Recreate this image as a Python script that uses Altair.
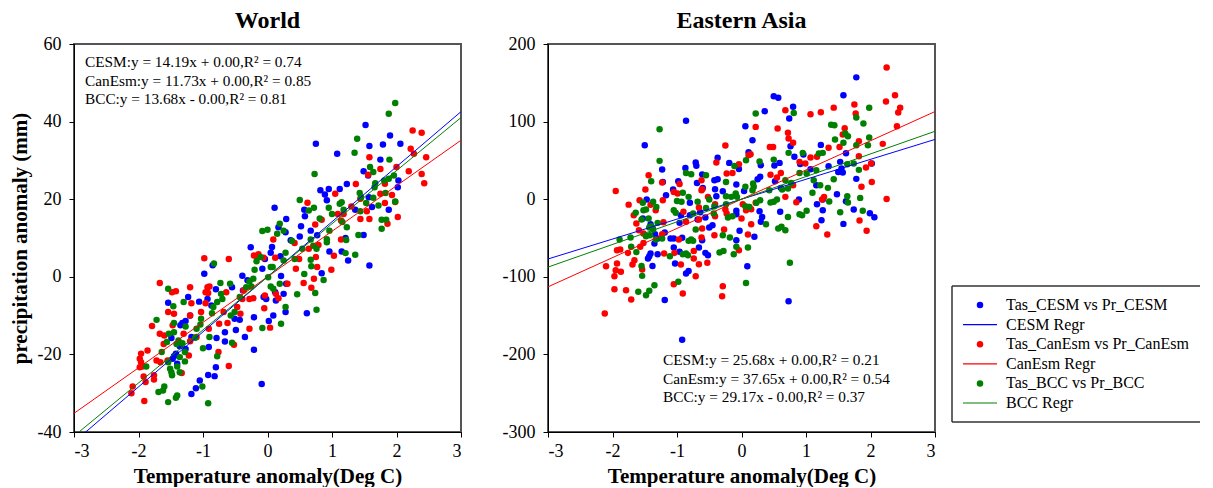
import altair as alt
import pandas as pd

FONT = "Liberation Serif"
SERIES = ["CESM", "CanEsm", "BCC"]
COLORS = ["#0000ff", "#ff0000", "#008000"]
X_TICKS = [-3, -2, -1, 0, 1, 2, 3]
WORLD_Y_TICKS = [-40, -20, 0, 20, 40, 60]
EA_Y_TICKS = [-300, -200, -100, 0, 100, 200]
WORLD_SLOPES = [14.19, 11.73, 13.68]
EA_SLOPES = [25.68, 37.65, 29.17]
WORLD_EQ = ["CESM:y = 14.19x + 0.00,R² = 0.74",
            "CanEsm:y = 11.73x + 0.00,R² = 0.85",
            "BCC:y = 13.68x - 0.00,R² = 0.81"]
EA_EQ = ["CESM:y = 25.68x + 0.00,R² = 0.21",
         "CanEsm:y = 37.65x + 0.00,R² = 0.54",
         "BCC:y = 29.17x - 0.00,R² = 0.37"]
LEGEND_LABELS = ["Tas_CESM vs Pr_CESM", "CESM Regr",
                 "Tas_CanEsm vs Pr_CanEsm", "CanEsm Regr",
                 "Tas_BCC vs Pr_BCC", "BCC Regr"]
LEGEND_KINDS = ["dot", "line", "dot", "line", "dot", "line"]
LEGEND_SERIES = ["CESM", "CESM", "CanEsm", "CanEsm", "BCC", "BCC"]

WORLD_CESM = [(1.52,39.1),(1.90,36.4),(2.06,34.3),(1.58,33.7),(1.79,34.1),(0.75,34.3),(1.08,31.7),(1.75,30.2),(1.49,27.2),(1.56,26.1),(2.03,24.8),(2.02,23.1),(1.23,23.9),(1.12,22.6),(0.95,22.6),(0.82,22.3),(0.89,21.2),(0.92,19.7),(1.57,20.5),(1.62,18.0),(1.88,17.3),(1.36,17.3),(0.57,17.3),(0.58,15.6),(0.11,17.8),(0.29,14.9),(0.52,13.0),(0.50,10.4),(0.67,11.9),(0.77,10.7),(0.17,12.8),(0.28,11.5),(0.36,9.4),(1.49,10.8),(1.21,10.0),(1.15,6.5),(0.96,6.5),(1.25,4.2),(-0.26,7.6),(0.07,7.7),(0.05,6.2),(0.20,5.3),(0.84,0.9),(1.58,2.9),(0.61,-9.4),(-0.08,2.1),(-0.04,4.6),(0.21,0.2),(0.29,-1.8),(0.25,-4.4),(0.28,-9.1),(0.12,-4.0),(0.13,-6.1),(0.09,-10.0),(0.02,-11.4),(-0.06,-5.2),(-0.02,-5.7),(-0.09,-27.6),(-0.21,-10.4),(-0.21,-18.8),(-0.35,-15.5),(-0.43,-11.1),(-0.49,-13.7),(-0.51,-10.8),(-0.39,0.3),(-0.31,-0.9),(-0.38,-3.5),(-0.55,-2.7),(-0.66,-14.3),(-0.66,-16.7),(-0.79,-15.8),(-0.80,-23.3),(-0.82,-25.6),(-0.92,-25.3),(-0.91,-18.1),(-0.80,-3.2),(-0.87,-7.4),(-0.85,3.0),(-0.98,0.8),(-1.06,-6.4),(-1.05,-26.7),(-1.11,-28.7),(-1.18,-30.2),(-1.23,-5.2),(-1.20,-10.0),(-1.27,-11.4),(-1.32,-11.9),(-1.36,-17.9),(-1.42,-19.8),(-1.47,-21.1),(-1.54,-6.7),(-1.49,-15.8),(-1.18,-15.5),(-1.27,-18.6),(-1.40,-22.4),(-0.93,-5.7),(-1.45,-20.5),(-1.35,-12.5)]
WORLD_CANESM = [(2.39,37.1),(2.25,37.7),(2.22,33.0),(2.27,31.7),(2.46,30.8),(1.58,30.8),(1.75,27.8),(2.19,27.2),(2.00,28.3),(2.39,26.5),(2.43,24.1),(1.56,26.3),(1.37,23.9),(1.82,24.0),(1.75,21.4),(1.05,21.4),(1.93,21.1),(1.44,20.1),(1.98,19.3),(1.82,19.0),(1.30,18.1),(1.18,16.2),(1.09,16.2),(1.54,16.9),(1.44,14.9),(1.58,14.9),(0.84,14.7),(0.74,13.5),(1.14,14.5),(2.02,15.4),(1.86,13.7),(0.62,19.1),(0.42,8.7),(0.09,9.6),(1.14,9.6),(1.03,5.4),(0.99,1.8),(0.64,7.2),(0.79,8.2),(0.75,5.1),(0.77,2.5),(0.49,4.6),(0.44,2.1),(0.12,4.9),(-0.14,5.8),(-0.06,4.9),(0.72,-0.5),(0.56,-1.6),(0.68,-2.8),(0.31,-1.8),(0.13,-4.4),(0.17,-5.5),(-0.04,-4.8),(0.04,-13.1),(-0.05,-8.1),(-0.60,4.6),(-0.98,4.8),(-0.93,-2.7),(-0.90,-2.5),(-0.96,-4.0),(-0.92,-4.2),(-0.96,-6.8),(-1.03,-9.1),(-1.10,-15.5),(-0.91,-13.4),(-0.75,-12.1),(-0.76,-19.4),(-0.62,-11.9),(-0.60,-23.0),(-0.52,-17.5),(-0.68,-9.1),(-0.64,-4.0),(-0.47,-7.8),(-0.39,-5.7),(-0.28,-5.7),(-0.37,-3.5),(-0.22,-5.5),(-0.28,-13.4),(-0.42,-9.5),(-0.21,5.5),(-0.16,5.1),(-1.20,-2.7),(-1.18,-6.8),(-1.20,-10.0),(-1.20,-16.6),(-1.22,-20.3),(-1.33,-24.8),(-1.30,-14.7),(-1.42,-3.7),(-1.48,-4.0),(-1.45,-9.5),(-1.54,-9.1),(-1.47,-12.5),(-1.60,-15.1),(-1.67,-14.7),(-1.61,-17.3),(-1.55,-21.6),(-1.67,-1.6),(-1.72,-21.6),(-1.66,-22.0),(-1.76,-25.4),(-1.76,-26.5),(-1.79,-12.7),(-1.86,-19.0),(-1.96,-19.8),(-1.98,-21.1),(-1.96,-22.0),(-1.98,-23.3),(-1.92,-25.7),(-1.89,-27.1),(-1.91,-32.0),(-2.09,-28.3),(-2.11,-30.0),(-1.94,-23.1)]
WORLD_BCC = [(1.98,44.8),(1.88,42.0),(1.39,35.6),(1.35,32.0),(1.89,30.2),(0.73,26.5),(1.59,28.3),(1.64,27.0),(1.67,24.1),(1.66,23.1),(1.81,24.8),(1.96,26.1),(1.88,25.3),(1.43,21.6),(1.45,20.5),(1.64,20.4),(1.53,19.0),(1.83,21.6),(1.98,19.4),(1.72,18.4),(1.44,16.9),(1.15,19.2),(1.12,18.8),(1.18,17.3),(1.16,14.1),(1.23,12.8),(1.22,9.5),(1.21,6.1),(1.36,5.7),(1.41,10.8),(1.77,14.7),(1.84,14.7),(1.77,12.4),(0.95,17.8),(1.00,16.2),(0.96,11.9),(0.92,9.7),(0.92,8.9),(0.50,19.8),(0.64,17.1),(0.72,17.8),(0.81,15.0),(0.67,9.6),(0.71,8.0),(0.76,7.2),(0.67,4.4),(0.68,2.7),(0.74,-4.2),(0.76,-8.5),(0.87,-0.8),(0.57,0.7),(0.46,-4.5),(0.54,7.2),(0.42,4.6),(0.38,9.2),(0.25,11.9),(0.19,13.7),(0.15,11.1),(0.28,6.2),(0.25,4.2),(0.00,12.1),(-0.08,11.8),(0.05,2.5),(0.08,2.5),(0.01,-0.1),(0.05,-2.5),(0.09,-3.1),(0.19,-1.8),(0.21,-12.1),(0.28,-7.8),(-0.08,-13.2),(-0.11,5.1),(-0.17,4.0),(-0.20,1.8),(-0.22,-0.5),(-0.28,-1.2),(-0.25,-2.5),(-0.33,-2.7),(-0.43,-5.2),(-0.51,-9.1),(-0.58,-1.8),(-0.73,-1.6),(-0.72,-4.4),(-0.70,-5.7),(-0.78,-6.5),(-0.83,3.4),(-0.84,-7.8),(-0.86,-9.4),(-0.90,-15.5),(-0.78,-20.5),(-0.57,-10.0),(-0.55,-17.0),(-1.03,-10.8),(-1.04,-12.3),(-1.00,-18.4),(-1.01,-28.3),(-0.92,-32.6),(-1.10,-13.4),(-1.12,-15.7),(-1.27,-12.8),(-1.30,-6.5),(-1.32,-17.1),(-1.28,-19.4),(-1.28,-21.8),(-1.36,-20.7),(-1.38,-16.4),(-1.41,-17.3),(-1.40,-23.1),(-1.40,-30.6),(-1.42,-31.2),(-1.36,-24.6),(-1.45,-11.9),(-1.46,-7.6),(-1.45,-14.3),(-1.54,-3.1),(-1.53,-14.7),(-1.54,-22.0),(-1.51,-23.7),(-1.49,-24.6),(-1.48,-25.4),(-1.54,-32.3),(-1.60,-28.3),(-1.62,-29.3),(-1.69,-29.7),(-1.64,-19.4),(-1.72,-11.1),(-1.88,-23.1),(-1.56,-16.8)]

EA_CESM = [(1.78,157),(1.58,134),(0.50,132.7),(0.57,130.6),(0.80,119),(0.36,113.4),(0.74,104),(0.06,94),(-0.86,101),(0.17,76),(0.76,68.3),(1.23,70),(-1.50,69.6),(0.11,60.6),(1.62,59.3),(0.96,57.6),(0.82,54.6),(-0.37,53.3),(1.53,48.1),(-0.19,46.8),(-0.71,47.2),(-0.70,43),(0.30,43.8),(0.51,43.4),(0.59,46.8),(0.91,45.5),(1.35,42.5),(1.55,39.5),(-0.87,40.3),(-1.23,38.2),(-0.04,39),(1.78,26.2),(0.25,25.8),(-0.37,25.8),(-0.42,24.5),(-0.98,23.2),(-1.22,22.3),(-0.69,21),(0.52,23.2),(1.50,35),(1.57,34.3),(1.07,38.7),(-0.61,32),(0.29,28.8),(-0.60,14.4),(-0.41,12.9),(-0.29,10.3),(-1.06,12.4),(0.04,10.7),(-0.08,18.9),(0.61,14.6),(1.16,18),(-1.17,5.1),(-0.39,3.8),(0.89,-0.5),(1.26,-0.5),(1.62,-2.6),(1.48,6.4),(1.17,-6.5),(1.26,-14.2),(0.60,-16.3),(0.28,-15.5),(-0.08,-15),(-0.08,-19.3),(0.32,-22.8),(0.30,-29.2),(1.24,-27.1),(1.58,-31.8),(1.74,-13.3),(1.99,-18),(2.06,-23.2),(2.02,46),(-0.03,-40.8),(0.20,-48.5),(-0.08,-52.8),(0.09,-86.3),(0.73,-131.4),(-0.80,-4.7),(-0.64,-16.8),(-0.68,-26.2),(-0.56,-23.6),(-0.45,-33.5),(-0.50,-36.5),(-0.61,-52.8),(-0.52,-72.2),(-0.56,-69.2),(-0.66,-62.3),(-0.80,-20.8),(-0.94,-20.8),(-0.96,-30.5),(-1.05,-50.7),(-1.05,-62.3),(-1.03,-82.9),(-0.96,-67.8),(-0.86,-95.8),(-0.82,-92.4),(-0.92,-181),(-1.19,-130),(-1.19,-43),(-1.34,-45),(-1.35,-57),(-1.38,-86),(-1.43,-73.4),(-1.41,-70),(-1.30,-71),(-1.30,-50.7),(-1.41,-32.2),(-1.45,-76.5),(-1.38,-37),(-1.53,-25),(-1.47,-0.4),(-1.10,-50.7),(-0.92,-49.8)]
EA_CANESM = [(2.25,169.6),(2.38,134),(2.24,126),(2.46,117.7),(2.43,111.7),(2.41,94),(2.19,71.3),(0.68,114.7),(1.07,109.5),(1.23,112.1),(1.43,118),(1.75,122),(1.77,110.4),(0.56,91),(0.22,93.2),(1.60,91.5),(1.57,83.3),(1.82,74.7),(0.72,85.5),(0.73,78.2),(0.80,72.6),(0.49,67.4),(1.52,67.4),(1.35,66.2),(-0.25,69.2),(0.14,58),(0.11,56.7),(-0.39,47.2),(1.82,55.4),(1.07,53.7),(1.17,54.6),(2.02,22.3),(1.86,15.9),(2.01,46),(1.93,40.8),(2.25,0.4),(1.83,-27.5),(1.94,-40.8),(1.16,-34.8),(1.33,-45.5),(1.25,-0.4),(1.28,3),(0.44,67.4),(0.90,48.1),(0.99,46),(0.61,33.9),(0.55,27.9),(0.80,18),(0.68,3),(0.45,31.4),(0.85,-3.9),(0.12,-10),(0.02,-6.5),(0.22,-4.7),(0.15,-12.9),(0.07,-14.2),(0.00,-24.9),(0.15,-32.2),(0.10,-45.5),(-0.04,-65.7),(-0.29,-112.1),(-0.30,-125),(-0.27,-39),(-0.25,-13.3),(-0.23,-18.5),(-0.41,-6.5),(-0.41,-22.1),(-0.42,-46.4),(-0.23,33),(-0.14,33.9),(-0.04,45),(-0.62,24.5),(-0.61,12.9),(-0.62,11.6),(-0.52,3),(-0.66,-10.7),(-0.66,-26.2),(-0.61,-37.8),(-0.62,-49.4),(-0.74,-66.6),(-0.66,-83.7),(-0.74,-76.5),(-0.53,-82),(-0.71,-99.2),(-0.91,-121.6),(-0.94,-84.2),(-0.97,-52),(-0.86,-29.2),(-0.90,-16.3),(-0.96,19.7),(-0.99,7.3),(-1.05,9.4),(-1.04,-69.2),(-1.05,-109.5),(-1.22,-1.3),(-1.21,-29.6),(-1.23,-45),(-1.20,-70),(-1.23,21.4),(-1.33,-14.2),(-1.44,30.9),(-1.49,12.4),(-1.41,-7.3),(-1.52,-44.2),(-1.52,-56.3),(-1.54,-90.6),(-1.57,-61.4),(-1.58,-1.3),(-1.59,-40),(-1.63,-31.4),(-1.67,-20.6),(-1.66,-78.6),(-1.69,-84.2),(-1.71,-129.3),(-1.79,-117.3),(-1.75,-7),(-1.76,-69.2),(-1.88,-64.8),(-1.87,-93.6),(-1.93,-65.7),(-1.93,-82.9),(-1.95,10.7),(-1.95,-91.5),(-1.97,-99.2),(-1.97,-115.9),(-2.10,-86.3),(-2.12,-147.3)]
EA_BCC = [(1.98,117.7),(0.81,111.2),(0.22,110.4),(1.78,105.2),(1.89,97.5),(1.39,95.8),(1.44,95.4),(-1.27,90.2),(1.61,84.6),(1.65,81.2),(1.45,76.9),(1.98,79.5),(1.58,72.6),(1.26,59.7),(1.20,58.8),(1.78,69.6),(1.96,69.6),(0.95,59.7),(0.73,59.7),(0.50,51),(0.28,48.5),(0.07,50.3),(-0.11,42.7),(-1.27,49.4),(1.74,45.9),(1.64,45.1),(1.82,37.8),(1.43,25.8),(1.16,37.4),(1.12,24.5),(0.90,33.9),(0.77,21),(0.72,13.7),(0.63,12.4),(0.68,24.5),(1.22,18),(1.34,14.6),(1.10,8.2),(1.01,33),(-0.86,33.9),(-0.78,32.2),(-0.55,31),(-1.40,23.2),(-0.24,22.3),(0.18,20.2),(0.19,15.9),(0.17,11.6),(0.43,11.6),(-0.09,7.3),(-0.24,3.9),(-0.16,3),(-0.07,3),(0.06,15.9),(-0.91,8.2),(-0.93,-3.4),(-1.00,-2.2),(-0.82,3),(-0.68,-3.4),(-0.50,-0.4),(-0.55,-11.2),(-0.42,-9),(0.29,-1.3),(0.45,-4.3),(0.50,-3.4),(0.55,-0.4),(-0.14,-22.1),(-0.21,-23.6),(-0.24,-6.5),(0.06,-9),(0.23,-4.7),(0.90,-19.3),(0.94,-20.6),(1.01,-15),(1.36,-3),(1.53,-16.8),(1.65,-4.3),(1.64,3.9),(1.84,1.7),(1.88,-15),(-1.37,-3.4),(-1.53,-4.7),(-1.52,-14.2),(-1.48,-13.3),(-1.55,-26.2),(-1.44,-24.9),(-1.43,-36.5),(-1.40,-34.8),(-1.37,-39),(-1.42,-46.4),(-1.48,-47.7),(-1.32,-9.9),(-1.30,-30.5),(-1.23,-50.7),(-1.33,-52),(-1.05,-14.2),(-1.02,-17.6),(-1.11,-73.4),(-0.98,-106.5),(-0.91,-70.9),(-0.86,-70),(-0.83,-72.2),(-0.82,-53.7),(-0.78,-52),(-0.75,-53.7),(-0.71,-39),(-0.75,-18.5),(-0.43,-18.5),(-0.34,-68.7),(-0.28,-66.6),(-0.29,-46.4),(-0.18,-49.4),(-0.12,-70.9),(-0.08,-61.4),(0.07,-108),(0.10,-62.3),(0.12,-10),(0.38,-32.2),(0.57,-37.8),(0.62,-35.6),(0.68,-40),(0.72,-22.8),(0.75,-82),(-1.71,-61.4),(-1.63,-68.2),(-1.72,-49.4),(-1.89,-52),(-1.64,-17.6),(-1.60,-119.4),(-1.48,-123.7),(-1.43,-118),(-1.35,-110.8),(-1.55,-86),(-1.54,-98.8)]

PLOT_W = 387
PLOT_H = 388

color_enc = alt.Color("series:N", scale=alt.Scale(domain=SERIES, range=COLORS), legend=None)


def panel(title, point_sets, slopes, yticks, eq_lines, eq_x, eq_y, ytitle, legend=False):
    rows = []
    for s, pts in zip(SERIES, point_sets):
        for x, y in pts:
            rows.append({"x": x, "y": y, "series": s})
    pts_df = pd.DataFrame(rows)
    line_rows = []
    for s, m in zip(SERIES, slopes):
        for xv in (X_TICKS[0], X_TICKS[-1]):
            line_rows.append({"x": xv, "y": m * xv, "series": s})
    line_df = pd.DataFrame(line_rows)

    xscale = alt.Scale(domain=[X_TICKS[0], X_TICKS[-1]], nice=False, zero=False)
    yscale = alt.Scale(domain=[yticks[0], yticks[-1]], nice=False, zero=False)
    xenc = alt.X("x:Q", scale=xscale,
                 axis=alt.Axis(values=X_TICKS, title="Temperature anomaly(Deg C)",
                               labelExpr="'' + datum.value"))
    yenc = alt.Y("y:Q", scale=yscale,
                 axis=alt.Axis(values=yticks, title=ytitle,
                               labelExpr="'' + datum.value"))

    points = alt.Chart(pts_df).mark_circle(size=42, opacity=1).encode(
        x=xenc, y=yenc, color=color_enc)
    lines = alt.Chart(line_df).mark_line(clip=True, strokeWidth=1).encode(
        x=alt.X("x:Q", scale=xscale), y=alt.Y("y:Q", scale=yscale), color=color_enc)
    eq = alt.Chart(pd.DataFrame({"k": [0]})).mark_text(
        align="left", baseline="alphabetic", font=FONT, fontSize=15.3,
        lineHeight=18.5, color="black").encode(
        x=alt.value(eq_x), y=alt.value(eq_y), text=alt.value(eq_lines))
    base = alt.layer(points, lines, eq)

    if legend:
        leg_df = pd.DataFrame({"label": LEGEND_LABELS, "kind": LEGEND_KINDS,
                               "series": LEGEND_SERIES, "row": list(range(len(LEGEND_LABELS)))})
        ly = alt.Y("row:Q", scale=alt.Scale(domain=[0, 5], range=[261, 359]), axis=None)
        leg_base = alt.Chart(leg_df)
        dots = leg_base.transform_filter("datum.kind == 'dot'").mark_circle(size=42, opacity=1).encode(
            x=alt.value(432), y=ly, color=color_enc)
        segs = leg_base.transform_filter("datum.kind == 'line'").mark_rule(strokeWidth=1.2).encode(
            x=alt.value(415), x2=alt.value(449), y=ly, color=color_enc)
        texts = leg_base.mark_text(align="left", baseline="middle", font=FONT, fontSize=16,
                                   color="black").encode(x=alt.value(458), y=ly, text="label:N")
        frame_top = alt.Chart(pd.DataFrame({"k": [0]})).mark_rule(color="#333333", strokeWidth=1.5).encode(
            x=alt.value(404), x2=alt.value(652), y=alt.value(242))
        frame_bot = alt.Chart(pd.DataFrame({"k": [0]})).mark_rule(color="#333333", strokeWidth=1.5).encode(
            x=alt.value(404), x2=alt.value(652), y=alt.value(378))
        frame_left = alt.Chart(pd.DataFrame({"k": [0]})).mark_rule(color="#333333", strokeWidth=1.5).encode(
            x=alt.value(404), y=alt.value(242), y2=alt.value(378))
        leg = alt.layer(frame_top, frame_bot, frame_left, segs, dots, texts)
        base = alt.layer(base, leg).resolve_scale(y="independent")

    return base.properties(
        width=PLOT_W, height=PLOT_H,
        title=alt.TitleParams(title, font=FONT, fontSize=24, fontWeight="bold",
                              anchor="middle", offset=2, color="black"))


left = panel("World", [WORLD_CESM, WORLD_CANESM, WORLD_BCC], WORLD_SLOPES, WORLD_Y_TICKS,
             WORLD_EQ, 11, 23, "precipitation anomaly (mm)")
right = panel("Eastern Asia", [EA_CESM, EA_CANESM, EA_BCC], EA_SLOPES, EA_Y_TICKS,
              EA_EQ, 115, 321, None, legend=True)

chart = alt.hconcat(
    left, right, spacing=38, background="white",
    padding={"left": 0, "top": 0, "right": 0, "bottom": 0}
).configure_axis(
    labelFont=FONT, labelFontSize=18, labelColor="black",
    titleFont=FONT, titleFontSize=21, titleFontWeight="bold", titleColor="black",
    domainColor="black", domainWidth=1, tickColor="black", tickSize=5, tickWidth=1,
    grid=False
).configure_axisX(labelPadding=5, titlePadding=5).configure_axisY(labelPadding=8, titlePadding=7).configure_view(
    stroke="#555555", strokeWidth=2
)

chart.save("out.html", embed_options={"renderer": "svg", "actions": False})
